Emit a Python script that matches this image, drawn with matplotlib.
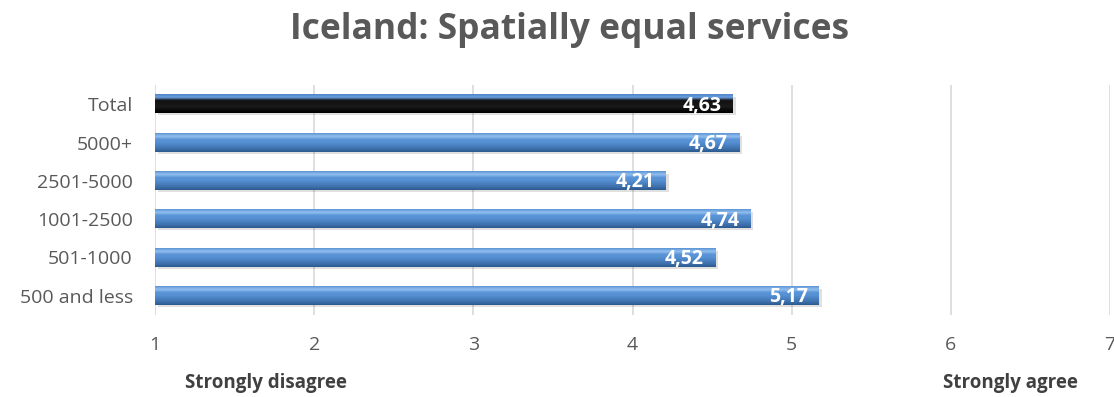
import numpy as np
import matplotlib.pyplot as plt
from matplotlib.colors import LinearSegmentedColormap

# data
categories = ['500 and less', '501-1000', '1001-2500', '2501-5000', '5000+', 'Total']
values = [5.17, 4.52, 4.74, 4.21, 4.67, 4.63]
labels = ['5,17', '4,52', '4,74', '4,21', '4,67', '4,63']
xticks = [1, 2, 3, 4, 5, 6, 7]

plt.rcParams['font.family'] = ['Open Sans', 'DejaVu Sans']

fig = plt.figure(figsize=(11.14, 3.97), dpi=100)
ax = fig.add_axes([155 / 1114, 82 / 397, 955 / 1114, 230 / 397])

blue_cmap = LinearSegmentedColormap.from_list(
    'bevel_blue', ['#2c5a8e', '#3d70ab', '#4a80c0', '#5590d2', '#5a94d6', '#92bff0', '#5c94d4'])
black_cmap = LinearSegmentedColormap.from_list(
    'bevel_black', ['#000000', '#0a0a0a', '#1a1a1a', '#151515', '#111111', '#6a9fe0', '#4f86c6'])

h = 0.47
grad = np.linspace(0, 1, 64).reshape(-1, 1)
for i, (cat, v) in enumerate(zip(categories, values)):
    cmap = black_cmap if cat == 'Total' else blue_cmap
    # soft shadow under each bar
    ax.add_patch(plt.Rectangle((1.02, i - h / 2 - 0.06), v - 1, h, color='#000000',
                               alpha=0.12, lw=0, zorder=2))
    ax.imshow(grad, cmap=cmap, aspect='auto', origin='lower',
              extent=(1, v, i - h / 2, i + h / 2), zorder=3)
    ax.text(v - 0.07, i - 0.04, labels[i], ha='right', va='center', color='white',
            fontsize=14, fontweight='bold', zorder=4)

ax.set_xlim(1, 7)
ax.set_ylim(-0.5, len(categories) - 0.5)
ax.set_xticks(xticks)
ax.set_yticks(range(len(categories)))
ax.set_yticklabels(categories)
ax.tick_params(length=0, labelsize=14, colors='#595959')
ax.tick_params(axis='x', pad=15)
ax.tick_params(axis='y', pad=16)
ax.xaxis.grid(True, color='#d9d9d9', lw=1.2)
ax.set_axisbelow(True)
for s in ax.spines.values():
    s.set_visible(False)

fig.text(570 / 1114, 1 - 30 / 397, 'Iceland: Spatially equal services', ha='center',
         va='center', fontsize=25.5, fontweight='bold', color='#595959')
fig.text(266 / 1114, 1 - 383 / 397, 'Strongly disagree', ha='center', va='center',
         fontsize=13.5, fontweight='bold', color='#404040')
fig.text(1010 / 1114, 1 - 383 / 397, 'Strongly agree', ha='center', va='center',
         fontsize=13.5, fontweight='bold', color='#404040')

fig.savefig('out.png', dpi=100)
